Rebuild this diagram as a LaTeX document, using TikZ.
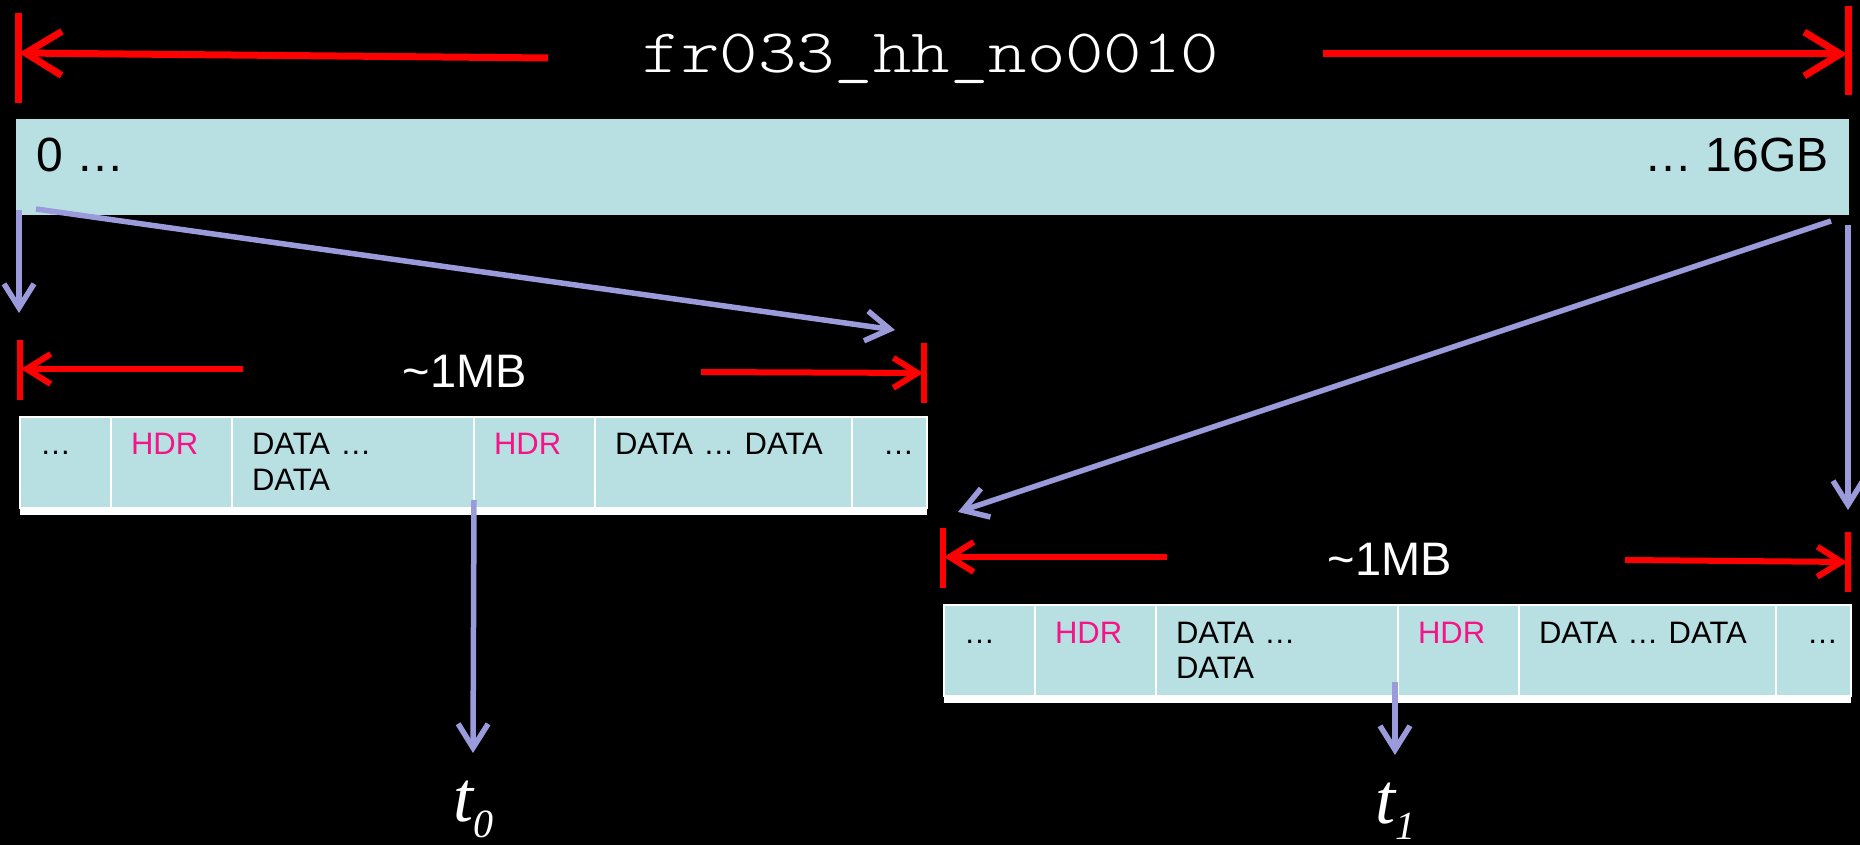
\documentclass[tikz,border=0pt]{standalone}
\usepackage{fontspec}
\setmainfont{Liberation Sans}
\newfontfamily\timesfont{Liberation Serif}
\newfontfamily\namefont{Latin Modern Mono Light}
\usetikzlibrary{arrows.meta, positioning}

\definecolor{barfill}{RGB}{184,224,227}
\definecolor{hdrpink}{RGB}{245,20,135}
\definecolor{linkblue}{RGB}{155,155,220}
\definecolor{dimred}{RGB}{255,0,0}

\newcommand{\tsub}[1]{t\raisebox{-8pt}{\fontsize{20}{20}\selectfont #1}}

\tikzset{
  bar/.style={fill=barfill, minimum width=916.5pt, minimum height=48pt, inner sep=0pt, outer sep=0pt, anchor=north west},
  bartext/.style={inner sep=0pt, font=\fontsize{24}{24}\selectfont},
  titletext/.style={inner sep=0pt, text=white, font=\namefont\fontsize{31}{31}\selectfont},
  sizetext/.style={inner sep=0pt, text=white, font=\fontsize{23.5}{23.5}\selectfont},
  tlabel/.style={inner sep=0pt, text=white, font=\timesfont\itshape\fontsize{36}{36}\selectfont},
  cell/.style={fill=barfill, draw=white, line width=1pt, inner xsep=10pt, inner ysep=0pt, outer sep=0pt,
    anchor=north west, align=left, text height=19pt, text depth=26.5pt, font=\fontsize{15.5}{17.5}\selectfont},
  strip/.style={fill=white, minimum width=453.5pt, minimum height=3.5pt, inner sep=0pt, outer sep=0pt},
  bigtick/.style={draw=dimred, line width=3.5pt},
  bigspan/.style={draw=dimred, line width=3.5pt, -{Straight Barb[length=18pt, width=22pt, sharp]}},
  dimtick/.style={draw=dimred, line width=3pt},
  dimspan/.style={draw=dimred, line width=3pt, -{Straight Barb[length=12pt, width=15pt, sharp]}},
  link/.style={draw=linkblue, line width=2.75pt, -{Straight Barb[length=12pt, width=15pt, sharp]}},
}

\begin{document}
\begin{tikzpicture}[x=0.5pt, y=-0.5pt]
\useasboundingbox (0,0) rectangle (1860,845);
\fill[black] (0,0) rectangle (1860,845);

% whole file

\node[titletext, anchor=base] (title) at (931,73) {\scalebox{1.18}[1]{fr033\_hh\_no0010}};
\node[bar] (bar) at (16,119) {};
\node[bartext, anchor=base west] (lo) at ([xshift=10pt,yshift=-26.5pt]bar.north west) {0 …};
\node[bartext, anchor=base east] (hi) at ([xshift=-10pt,yshift=-26.5pt]bar.north east) {… 16GB};

\coordinate (fileltop) at (18,13);
\coordinate (filelbot) at (18,103);
\coordinate (filertop) at (1848,6);
\coordinate (filerbot) at (1848,95);
\coordinate (filelfrom) at (548,58);
\coordinate (fileltip) at (19,53);
\coordinate (filerfrom) at (1323,54);
\coordinate (filertip) at (1847,54);

\draw[bigtick] (fileltop) -- (filelbot);
\draw[bigtick] (filertop) -- (filerbot);
\draw[bigspan] (filelfrom) -- (fileltip);
\draw[bigspan] (filerfrom) -- (filertip);

% first block

\node[cell, text width=25.5pt] (lc1) at (20,417) {…};
\node[cell, text width=40.5pt, text=hdrpink, right=0pt of lc1] (lc2) {HDR};
\node[cell, text width=101pt, right=0pt of lc2] (lc3) {DATA …\\DATA};
\node[cell, text width=40.5pt, text=hdrpink, right=0pt of lc3] (lc4) {HDR};
\node[cell, text width=108.5pt, right=0pt of lc4] (lc5) {DATA … DATA};
\node[cell, inner xsep=15.5pt, text width=6.5pt, right=0pt of lc5] (lc6) {…};
\node[strip, below right=0pt of lc1.south west] (lstrip) {};

\node[sizetext, anchor=base] (lsize) at (465,388) {\textasciitilde 1MB};
\coordinate (lltop) at (20,340);
\coordinate (llbot) at (20,400);
\coordinate (lrtop) at (924,343);
\coordinate (lrbot) at (924,403);
\coordinate (llfrom) at (243,369);
\coordinate (lltip) at (21,369);
\coordinate (lrfrom) at (701,372);
\coordinate (lrtip) at (923,373);

\draw[dimtick] (lltop) -- (llbot);
\draw[dimtick] (lrtop) -- (lrbot);
\draw[dimspan] (llfrom) -- (lltip);
\draw[dimspan] (lrfrom) -- (lrtip);

% last block

\node[cell, text width=25.5pt] (rc1) at (944,605) {…};
\node[cell, text width=40.5pt, text=hdrpink, right=0pt of rc1] (rc2) {HDR};
\node[cell, text width=101pt, right=0pt of rc2] (rc3) {DATA …\\DATA};
\node[cell, text width=40.5pt, text=hdrpink, right=0pt of rc3] (rc4) {HDR};
\node[cell, text width=108.5pt, right=0pt of rc4] (rc5) {DATA … DATA};
\node[cell, inner xsep=15.5pt, text width=6.5pt, right=0pt of rc5] (rc6) {…};
\node[strip, below right=0pt of rc1.south west] (rstrip) {};

\node[sizetext, anchor=base] (rsize) at (1390,575) {\textasciitilde 1MB};
\coordinate (rltop) at (943,528);
\coordinate (rlbot) at (943,588);
\coordinate (rrtop) at (1848,532);
\coordinate (rrbot) at (1848,592);
\coordinate (rlfrom) at (1167,557);
\coordinate (rltip) at (944,557);
\coordinate (rrfrom) at (1625,560);
\coordinate (rrtip) at (1847,562);

\draw[dimtick] (rltop) -- (rlbot);
\draw[dimtick] (rrtop) -- (rrbot);
\draw[dimspan] (rlfrom) -- (rltip);
\draw[dimspan] (rrfrom) -- (rrtip);

% links

\coordinate (startdown) at (19,313);
\coordinate (firsttip) at (895,330);
\coordinate (lasttip) at (958,512);
\coordinate (enddown) at (1848,510);
\coordinate (t0tip) at (473,753);
\coordinate (t1tip) at (1395,755);

\node[tlabel, below=14pt of t0tip] (t0) {\tsub{0}};
\node[tlabel, below=14pt of t1tip] (t1) {\tsub{1}};

\draw[link] ([xshift=1.5pt,yshift=2.5pt]bar.south west) -- (startdown);
\draw[link] ([xshift=10pt,yshift=3pt]bar.south west) -- (firsttip);
\draw[link] ([xshift=-9pt,yshift=-3pt]bar.south east) -- (lasttip);
\draw[link] ([xshift=-0.5pt,yshift=-5pt]bar.south east) -- (enddown);
\draw[link] ([yshift=4pt]lc3.south east) -- (t0tip);
\draw[link] ([xshift=-1.5pt,yshift=7pt]rc3.south east) -- (t1tip);

\end{tikzpicture}
\end{document}
